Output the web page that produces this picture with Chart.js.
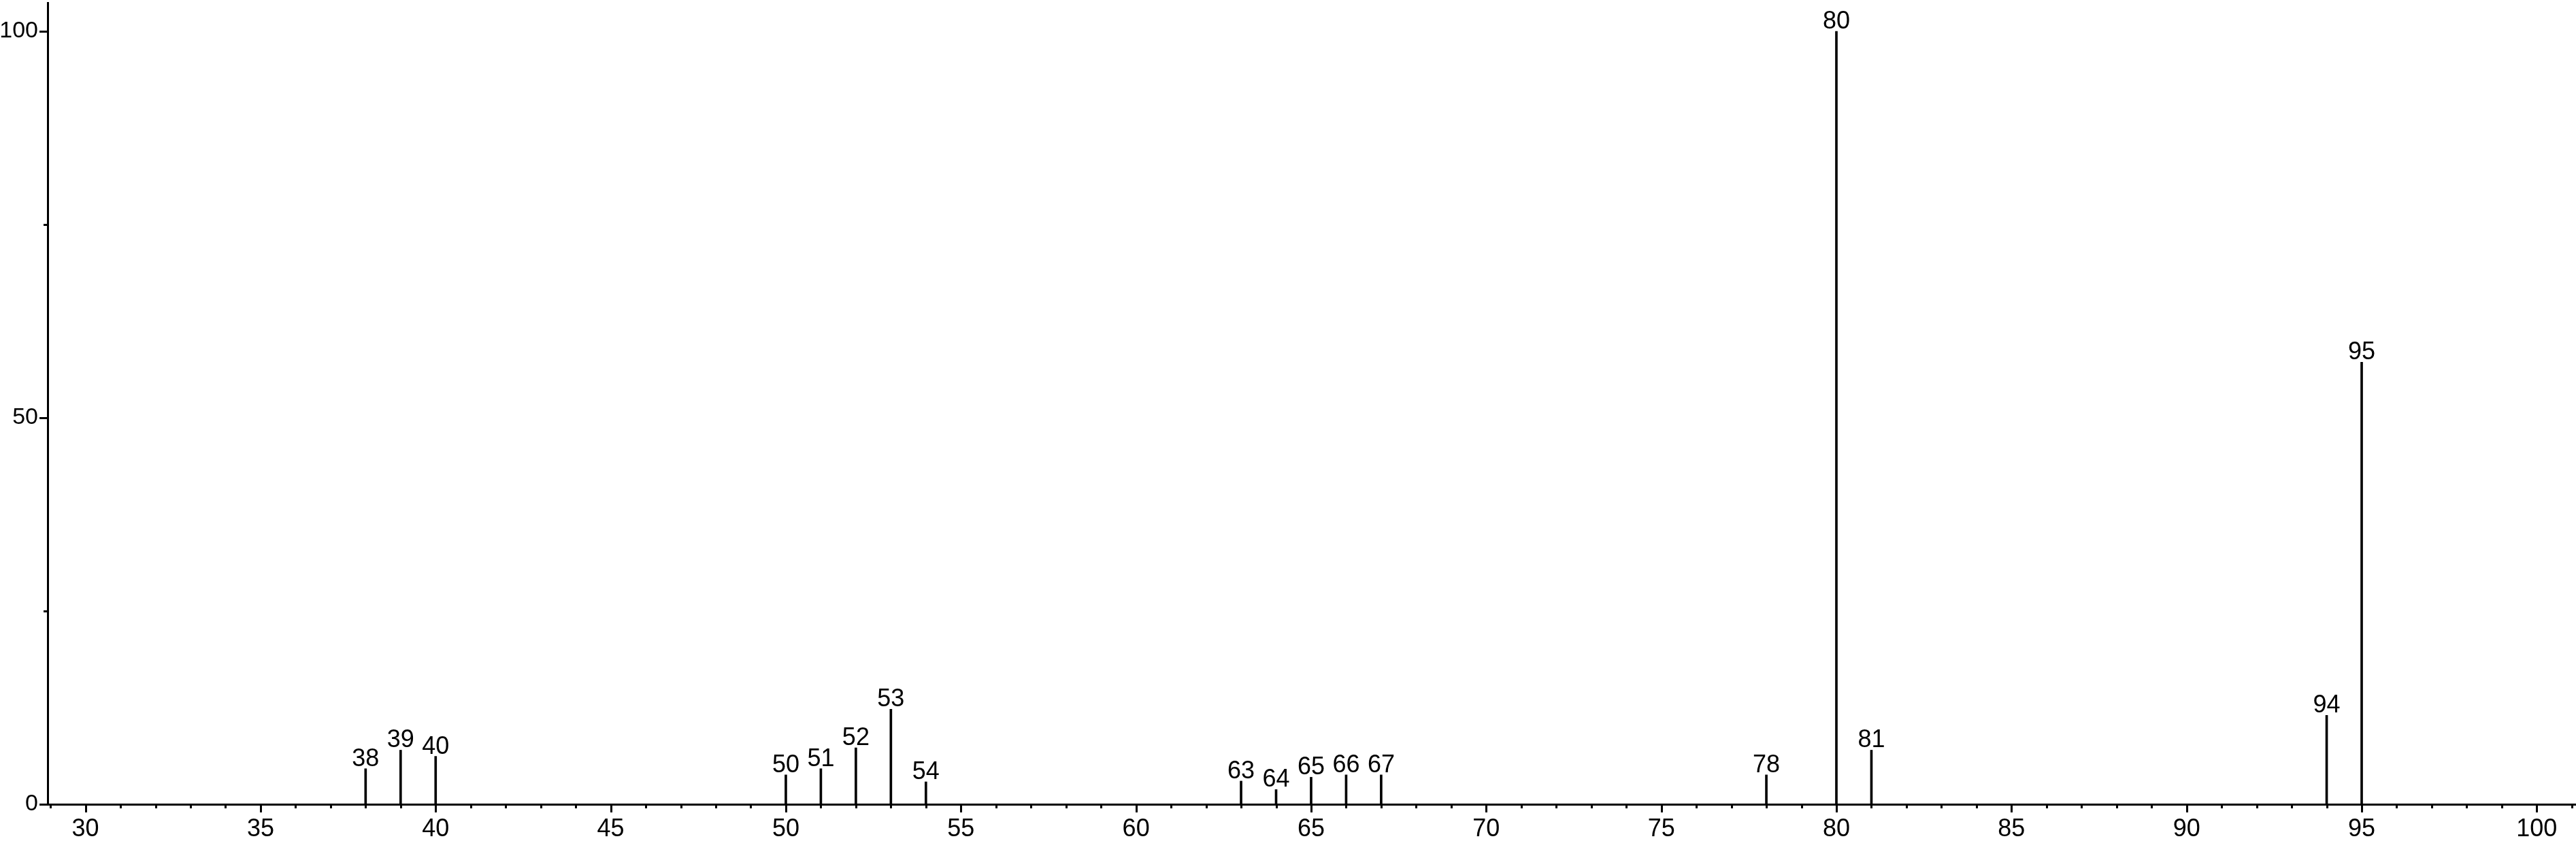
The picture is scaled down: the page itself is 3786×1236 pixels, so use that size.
<!DOCTYPE html>
<html>
<head>
<meta charset="utf-8">
<script src="https://cdn.jsdelivr.net/npm/chart.js@4.4.1/dist/chart.umd.min.js"></script>
<style>
  html, body { margin: 0; padding: 0; background: #fff; }
  canvas { display: block; }
</style>
</head>
<body>
<canvas id="chartCanvas" width="3786" height="1236" style="width:3786px;height:1236px"></canvas>
<script>
// m/z of each peak and its relative intensity
const masses = [38, 39, 40, 50, 51, 52, 53, 54, 63, 64, 65, 66, 67, 78, 80, 81, 94, 95];
const intensities = [4.6, 7.0, 6.2, 3.8, 4.6, 7.3, 12.3, 2.9, 3.0, 1.9, 3.5, 3.8, 3.8, 3.8, 100, 7.0, 11.5, 57.2];

const xTickLabels = [30, 35, 40, 45, 50, 55, 60, 65, 70, 75, 80, 85, 90, 95, 100];
const yTickLabels = [0, 50, 100];

const FONT = "'Liberation Sans', Arial, sans-serif";

// tick marks: long ones at labelled values, short ones in between
const tickMarks = {
  id: "tickMarks",
  afterDraw(chart) {
    const ctx = chart.ctx;
    const xs = chart.scales.x;
    const ys = chart.scales.y;
    ctx.save();
    ctx.strokeStyle = "#000";
    ctx.lineWidth = 3;
    ctx.beginPath();
    for (let v = Math.ceil(xs.min); v <= xs.max; v++) {
      const px = Math.round(xs.getPixelForValue(v)) + 0.5;
      const len = v % 5 === 0 ? 12 : 6;
      ctx.moveTo(px, ys.bottom);
      ctx.lineTo(px, ys.bottom + len);
    }
    for (let v = 0; v <= 100; v += 25) {
      const py = Math.round(ys.getPixelForValue(v)) + 0.5;
      const len = v % 50 === 0 ? 12 : 6;
      ctx.moveTo(xs.left - len, py);
      ctx.lineTo(xs.left, py);
    }
    ctx.stroke();
    ctx.restore();
  }
};

// mass number written above every peak
const peakLabels = {
  id: "peakLabels",
  afterDatasetsDraw(chart) {
    const ctx = chart.ctx;
    const meta = chart.getDatasetMeta(0);
    ctx.save();
    ctx.fillStyle = "#000";
    ctx.font = "36px " + FONT;
    ctx.textAlign = "center";
    ctx.textBaseline = "alphabetic";
    meta.data.forEach((bar, i) => {
      ctx.fillText(String(masses[i]), bar.x, bar.y - 4);
    });
    ctx.restore();
  }
};

const ctx = document.getElementById("chartCanvas").getContext("2d");
const chart = new Chart(ctx, {
  type: "bar",
  data: {
    datasets: [{
      data: masses.map((m, i) => ({ x: m, y: intensities[i] })),
      backgroundColor: "#000",
      borderWidth: 0,
      barThickness: 3
    }]
  },
  options: {
    responsive: false,
    devicePixelRatio: 1,
    animation: false,
    layout: { padding: { top: 4, right: 0, left: 0, bottom: 0 } },
    plugins: {
      legend: { display: false },
      tooltip: { enabled: false }
    },
    scales: {
      x: {
        type: "linear",
        offset: false,
        min: 28.92,
        max: 101.12,
        afterBuildTicks: s => { s.ticks = xTickLabels.map(v => ({ value: v })); },
        afterFit: s => { s.height = 54; s.paddingLeft = 0; s.paddingRight = 0; },
        grid: { display: false, drawTicks: false, offset: false },
        border: { display: true, color: "#000", width: 3 },
        ticks: {
          autoSkip: false,
          maxRotation: 0,
          padding: 15,
          color: "#000",
          font: { family: FONT, size: 36 }
        }
      },
      y: {
        min: 0,
        max: 103.7,
        afterBuildTicks: s => { s.ticks = yTickLabels.map(v => ({ value: v })); },
        afterFit: s => { s.width = 70; s.paddingTop = 0; s.paddingBottom = 0; },
        grid: { display: false, drawTicks: false },
        border: { display: true, color: "#000", width: 3 },
        ticks: {
          padding: 14,
          color: "#000",
          font: { family: FONT, size: 34 }
        }
      }
    }
  },
  plugins: [tickMarks, peakLabels]
});
</script>
</body>
</html>
